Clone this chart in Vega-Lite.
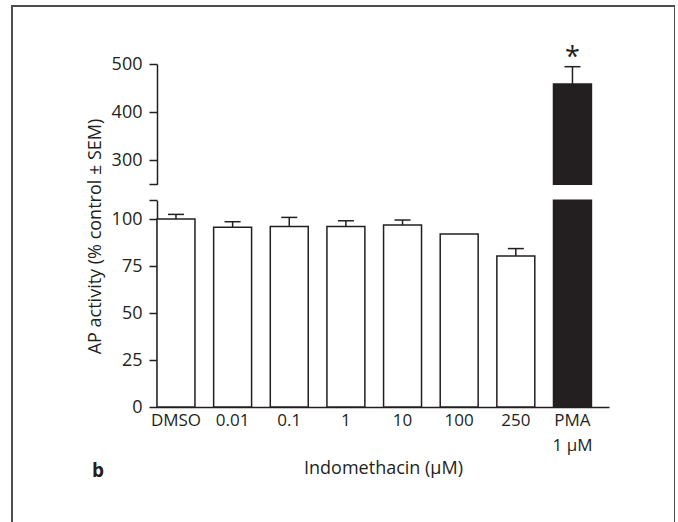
{
  "$schema": "https://vega.github.io/schema/vega-lite/v6.json",
  "autosize": "none",
  "width": 663,
  "height": 530,
  "padding": {"left": 12, "top": 6, "right": 0, "bottom": 0},
  "background": "white",
  "config": {
    "view": {"stroke": "#4d4d4d", "strokeWidth": 2},
    "font": "Open Sans"
  },
  "title": {
    "text": "b",
    "orient": "top",
    "anchor": "start",
    "frame": "group",
    "offset": 0,
    "baseline": "middle",
    "dx": 80,
    "dy": 484,
    "fontSize": 19,
    "fontWeight": "bold",
    "color": "#231f20"
  },
  "data": {
    "values": [
      {"group": "DMSO", "value": 100, "upper": 102.5},
      {"group": "0.01", "value": 95.6, "upper": 98.6},
      {"group": "0.1", "value": 96.1, "upper": 100.9},
      {"group": "1", "value": 96.1, "upper": 99.1},
      {"group": "10", "value": 96.8, "upper": 99.5},
      {"group": "100", "value": 92.0, "upper": null},
      {"group": "250", "value": 80.4, "upper": 84.3},
      {"group": "PMA", "value": 458.5, "upper": 494.4, "star": "*"}
    ]
  },
  "layer": [
    {
      "layer": [
        {
          "mark": {"type": "bar", "stroke": "#231f20", "strokeWidth": 1.5},
          "encoding": {
            "x": {
              "field": "group",
              "type": "nominal",
              "scale": {
                "domain": ["DMSO", "0.01", "0.1", "1", "10", "100", "250", "PMA"],
                "range": [145, 597],
                "paddingInner": 0.33,
                "paddingOuter": 0.155,
                "align": 0
              },
              "axis": {
                "orient": "bottom",
                "offset": -129,
                "ticks": false,
                "domainColor": "#231f20",
                "domainWidth": 1.5,
                "labelAngle": 0,
                "labelFontSize": 17,
                "labelColor": "#231f20",
                "labelPadding": 5,
                "labelLineHeight": 25,
                "labelOverlap": false,
                "labelExpr": "datum.value == 'PMA' ? ['PMA', '1 μM'] : datum.label",
                "title": "Indomethacin (μM)",
                "titleFontSize": 18,
                "titleFontWeight": "normal",
                "titleColor": "#231f20",
                "titlePadding": 6
              }
            },
            "y": {
              "field": "value",
              "type": "quantitative",
              "scale": {"domain": [0, 110], "range": [401, 194.3], "clamp": true, "nice": false},
              "axis": {
                "orient": "left",
                "offset": -145,
                "values": [0, 25, 50, 75, 100, 110],
                "labelExpr": "datum.value == 110 ? '' : datum.label",
                "grid": false,
                "tickSize": 8,
                "tickWidth": 1.5,
                "tickColor": "#231f20",
                "domainColor": "#231f20",
                "domainWidth": 1.5,
                "labelColor": "#231f20",
                "labelFontSize": 18,
                "labelPadding": 7,
                "title": "AP activity (% control ± SEM)",
                "titleFontSize": 18,
                "titleFontWeight": "normal",
                "titleColor": "#231f20",
                "titlePadding": 7,
                "titleY": 230
              }
            },
            "fill": {
              "condition": {"test": "datum.group === 'PMA'", "value": "#231f20"},
              "value": "white"
            }
          }
        },
        {
          "transform": [{"filter": "datum.upper != null && datum.group !== 'PMA'"}],
          "mark": {"type": "rule", "stroke": "#231f20", "strokeWidth": 1.5},
          "encoding": {
            "x": {"field": "group", "type": "nominal"},
            "y": {"field": "value", "type": "quantitative"},
            "y2": {"field": "upper"}
          }
        },
        {
          "transform": [{"filter": "datum.upper != null && datum.group !== 'PMA'"}],
          "mark": {"type": "tick", "size": 16, "thickness": 1.5, "color": "#231f20", "opacity": 1},
          "encoding": {
            "x": {"field": "group", "type": "nominal"},
            "y": {"field": "upper", "type": "quantitative"}
          }
        }
      ]
    },
    {
      "transform": [{"filter": "datum.group === 'PMA'"}],
      "layer": [
        {
          "mark": {"type": "bar", "fill": "#231f20", "stroke": "#231f20", "strokeWidth": 1.5},
          "encoding": {
            "x": {"field": "group", "type": "nominal"},
            "y": {
              "field": "value",
              "type": "quantitative",
              "scale": {"domain": [250, 500], "range": [178.3, 58], "clamp": true, "nice": false, "zero": false},
              "axis": {
                "orient": "left",
                "offset": -145,
                "values": [250, 300, 400, 500],
                "labelExpr": "datum.value == 250 ? '' : datum.label",
                "grid": false,
                "tickSize": 8,
                "tickWidth": 1.5,
                "tickColor": "#231f20",
                "domainColor": "#231f20",
                "domainWidth": 1.5,
                "labelColor": "#231f20",
                "labelFontSize": 18,
                "labelPadding": 7,
                "title": null
              }
            },
            "y2": {"datum": 250}
          }
        },
        {
          "mark": {"type": "rule", "stroke": "#231f20", "strokeWidth": 1.5},
          "encoding": {
            "x": {"field": "group", "type": "nominal"},
            "y": {"field": "value", "type": "quantitative"},
            "y2": {"field": "upper"}
          }
        },
        {
          "mark": {"type": "tick", "size": 16, "thickness": 1.5, "color": "#231f20", "opacity": 1},
          "encoding": {
            "x": {"field": "group", "type": "nominal"},
            "y": {"field": "upper", "type": "quantitative"}
          }
        },
        {
          "mark": {"type": "text", "fontSize": 27, "baseline": "alphabetic", "dy": -1, "color": "#231f20"},
          "encoding": {
            "x": {"field": "group", "type": "nominal"},
            "y": {"field": "upper", "type": "quantitative"},
            "text": {"field": "star"}
          }
        }
      ]
    }
  ],
  "resolve": {"scale": {"y": "independent"}, "axis": {"y": "independent"}}
}
